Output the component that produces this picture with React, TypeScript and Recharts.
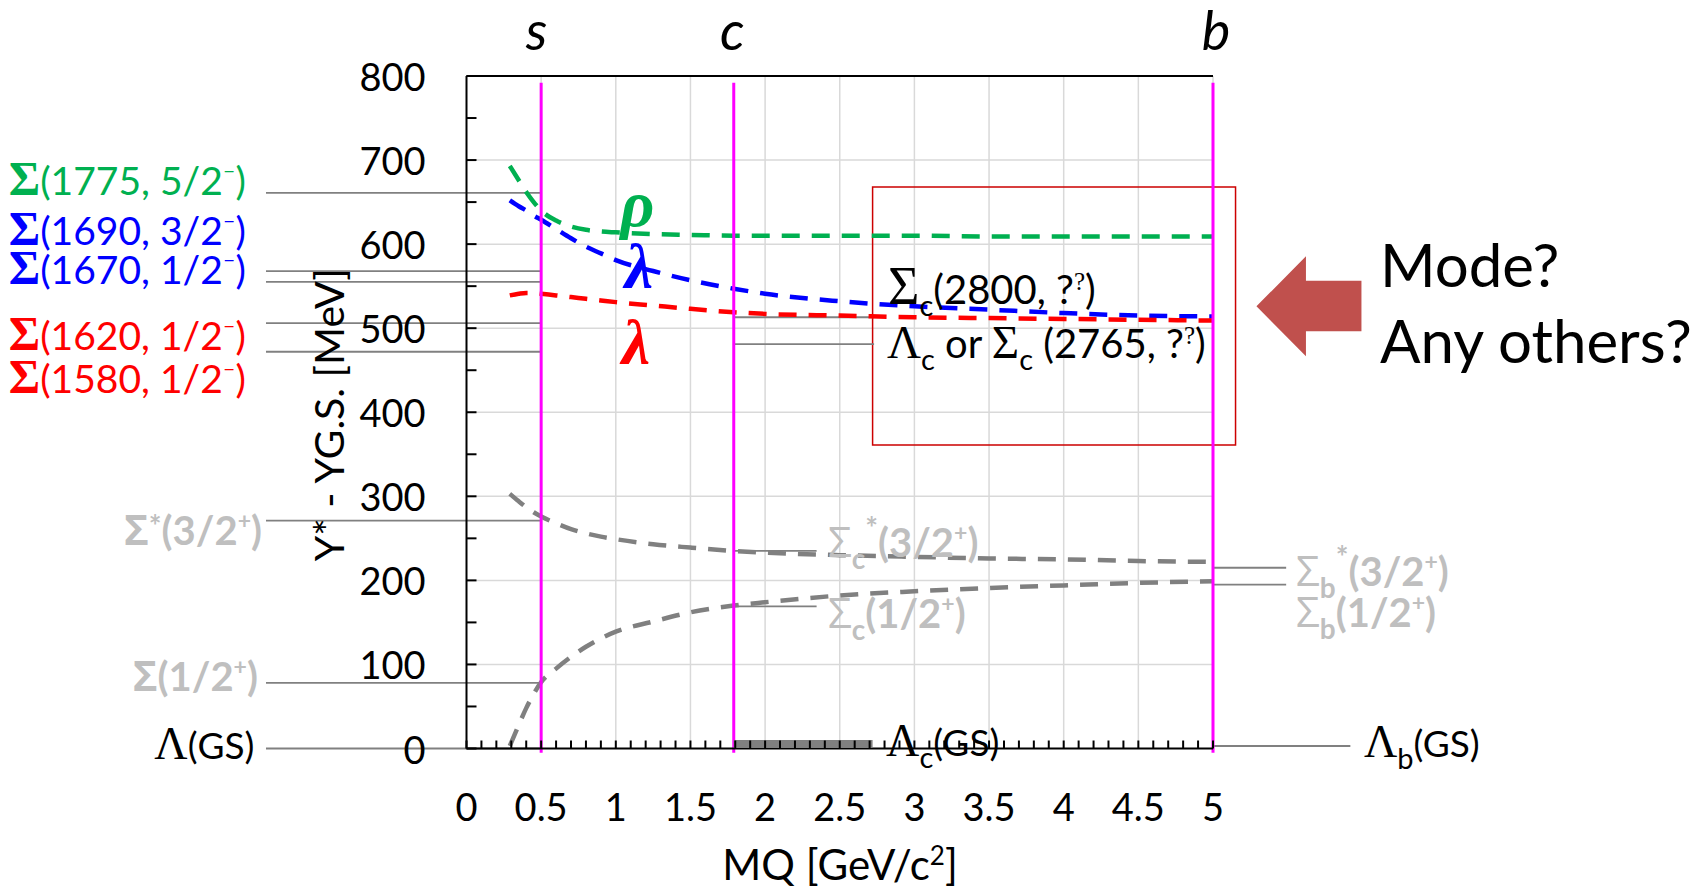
import React from 'react';
import {
  LineChart, Line, XAxis, YAxis, CartesianGrid, ReferenceLine, ReferenceArea, ReferenceDot,
} from 'recharts';

// quark mass axis (GeV/c^2) and excitation curves (MeV above ground state)
const MQ = [0.29, 0.35, 0.4, 0.45, 0.5, 0.6, 0.7, 0.8, 0.9, 1.0, 1.25, 1.5, 1.79, 2, 2.5, 3, 3.5, 4, 4.5, 5];
const RHO = [693, 676, 662, 650, 640, 628, 621, 617, 615, 614, 612, 611, 610, 610, 610, 610, 609, 609, 609, 609];
const LAMBDA_BLUE = [652, 645, 640, 634, 629, 618, 607, 597, 589, 581, 568, 557, 547, 541, 532, 526, 522, 518, 515, 514];
const LAMBDA_RED = [539, 541, 542, 542, 541, 539, 537, 535, 533, 531, 527, 523, 519, 517, 515, 513, 512, 511, 510, 509];
const SIGMA_STAR = [303, 294, 287, 281, 276, 268, 261, 256, 252, 249, 243, 239, 235, 233, 230, 228, 226, 225, 223, 222];
const SIGMA_HALF = [3, 28, 48, 65, 79, 95, 109, 121, 131, 139, 151, 162, 170, 174, 182, 187, 191, 194, 197, 199];

// quark masses (magenta lines)
const QUARKS = [
  { name: 's', m: 0.5 },
  { name: 'c', m: 1.79 },
  { name: 'b', m: 5 },
];

// measured levels (MeV above ground state)
const LEVELS_S = [661, 568, 555, 506, 472, 271, 78, 0];
const LEVELS_C = [513, 481];
const LEVELS_C_GRAY = [235, 169];
const LEVELS_B = [215, 195, 3];

const X_TICKS = Array.from({ length: 51 }, (_, i) => i / 10);
const Y_TICKS = Array.from({ length: 17 }, (_, i) => i * 50);
const X_GRID = [0.5, 1, 1.5, 2, 2.5, 3, 3.5, 4, 4.5, 5];
const Y_GRID = [100, 200, 300, 400, 500, 600, 700, 800];

const rows = MQ.map((mq, i) => ({
  mq,
  rho: RHO[i],
  lamB: LAMBDA_BLUE[i],
  lamR: LAMBDA_RED[i],
  sStar: SIGMA_STAR[i],
  sHalf: SIGMA_HALF[i],
}));

const SANS = "Lato, 'Open Sans', sans-serif";
const GREEK = "'Open Sans', 'Noto Sans', sans-serif";
const SERIF = "'Liberation Serif', 'DejaVu Serif', serif";
const GREEN = '#00b050';
const BLUE = '#0000ff';
const RED = '#ff0000';
const GRAY = '#808080';
const LIGHT = '#bfbfbf';
const MAGENTA = '#ff00ff';

const YTick = (props: any) => {
  const { x, y, payload } = props;
  const v = payload.value;
  return (
    <g>
      <line x1={x} x2={x + 10} y1={y} y2={y} stroke="#000" strokeWidth={2} />
      {v % 100 === 0 && (
        <text x={x - 41} y={y} textAnchor="end" dominantBaseline="central" fontFamily={SANS} fontSize={38} fill="#000">
          {v}
        </text>
      )}
    </g>
  );
};

const XTick = (props: any) => {
  const { x, y, payload } = props;
  const v = payload.value;
  const major = Math.round(v * 10) % 5 === 0;
  return (
    <g>
      <line x1={x} x2={x} y1={y} y2={y - 8} stroke="#000" strokeWidth={2} />
      {major && (
        <text x={x} y={y + 57} textAnchor="middle" dominantBaseline="central" fontFamily={SANS} fontSize={38} fill="#000">
          {String(v)}
        </text>
      )}
    </g>
  );
};

// text placed at a data coordinate
const note = (key: string, x: number, y: number, content: React.ReactNode) => (
  <ReferenceDot
    key={key}
    x={x}
    y={y}
    r={0}
    ifOverflow="visible"
    shape={(p: any) => <g transform={`translate(${p.cx},${p.cy})`}>{content}</g>}
  />
);

const seg = (key: string, x1: number, x2: number, y: number, stroke = GRAY, w = 1.8) => (
  <ReferenceLine
    key={key}
    segment={[{ x: x1, y }, { x: x2, y }]}
    stroke={stroke}
    strokeWidth={w}
    ifOverflow="visible"
  />
);

const leftLabel = (color: string, mass: string, jp: string) => (
  <text textAnchor="end" fill={color} fontFamily={SANS} fontSize={39}>
    <tspan fontFamily={SERIF} fontWeight="bold" fontSize={48}>Σ</tspan>
    <tspan>{`(${mass}, ${jp}`}</tspan>
    <tspan fontSize={22} dy={-17}>–</tspan>
    <tspan dy={17}>)</tspan>
  </text>
);

const grayLabel = (star: boolean, jp: string, sub?: string) => (
  <text textAnchor={sub ? 'start' : 'end'} fill={LIGHT} fontFamily={SANS} fontSize={40} fontWeight="bold">
    <tspan fontFamily={GREEK} fontWeight={sub ? 'normal' : 'bold'} fontSize={42}>Σ</tspan>
    {sub && <tspan fontSize={28} dy={12}>{sub}</tspan>}
    {star && <tspan fontSize={30} dy={sub ? -30 : -8}>*</tspan>}
    <tspan dy={star ? (sub ? 18 : 8) : sub ? -12 : 0}>{`(${jp}/2`}</tspan>
    <tspan fontSize={23} dy={-16}>+</tspan>
    <tspan dy={16}>)</tspan>
  </text>
);

const gsLabel = (anchor: 'start' | 'end', sub?: string) => (
  <text textAnchor={anchor} fill="#000" fontFamily={SANS} fontSize={37}>
    <tspan fontFamily={SERIF} fontSize={46}>Λ</tspan>
    {sub && <tspan fontSize={29} dy={12}>{sub}</tspan>}
    <tspan dy={sub ? -12 : 0}>(GS)</tspan>
  </text>
);

export default function App() {
  return (
    <div style={{ position: 'absolute', left: 0, top: 0, width: 1701, height: 892, background: '#fff' }}>
      <LineChart width={1701} height={892} data={rows} margin={{ top: 76, right: 488, bottom: 100, left: 366.5 }}>
        <CartesianGrid stroke="#d9d9d9" strokeWidth={1.5} horizontalValues={Y_GRID} verticalValues={X_GRID} />
        <XAxis
          dataKey="mq"
          type="number"
          domain={[0, 5]}
          ticks={X_TICKS}
          interval={0}
          height={43.5}
          tickSize={0}
          tickMargin={0}
          tickLine={false}
          axisLine={{ stroke: '#000', strokeWidth: 2 }}
          tick={XTick}
        />
        <YAxis
          type="number"
          domain={[0, 800]}
          ticks={Y_TICKS}
          interval={0}
          width={100}
          tickSize={0}
          tickMargin={0}
          tickLine={false}
          axisLine={{ stroke: '#000', strokeWidth: 2 }}
          tick={YTick}
        />
        <ReferenceLine y={800} stroke="#000" strokeWidth={2} />

        {/* level lines to the measured states */}
        {LEVELS_S.map((v, i) => seg(`ls${i}`, -1.343, 0.5, v))}
        {LEVELS_C.map((v, i) => seg(`lc${i}`, 1.79, 2.73, v))}
        {LEVELS_C_GRAY.map((v, i) => seg(`lg${i}`, 1.79, 2.345, v))}
        {LEVELS_B.map((v, i) => seg(`lb${i}`, 5, i === 2 ? 5.92 : 5.49, v))}

        <Line type="monotone" dataKey="rho" stroke={GREEN} strokeWidth={4.5} strokeDasharray="18 12" dot={false} isAnimationActive={false} />
        <Line type="monotone" dataKey="lamB" stroke={BLUE} strokeWidth={4.5} strokeDasharray="18 12" dot={false} isAnimationActive={false} />
        <Line type="monotone" dataKey="lamR" stroke={RED} strokeWidth={4.5} strokeDasharray="18 12" dot={false} isAnimationActive={false} />
        <Line type="monotone" dataKey="sStar" stroke={GRAY} strokeWidth={4.5} strokeDasharray="18 12" dot={false} isAnimationActive={false} />
        <Line type="monotone" dataKey="sHalf" stroke={GRAY} strokeWidth={4.5} strokeDasharray="18 12" dot={false} isAnimationActive={false} />

        {QUARKS.map((q) => (
          <ReferenceLine
            key={q.name}
            segment={[{ x: q.m, y: -5 }, { x: q.m, y: 792 }]}
            stroke={MAGENTA}
            strokeWidth={3}
            ifOverflow="visible"
          />
        ))}

        {/* Lambda_c ground state bar */}
        <ReferenceLine
          segment={[{ x: 1.79, y: 5.4 }, { x: 2.72, y: 5.4 }]}
          stroke={GRAY}
          strokeWidth={8}
          ifOverflow="visible"
          zIndex={1500}
        />

        <ReferenceArea x1={2.72} x2={5.151} y1={361} y2={668} fill="none" stroke="#cc0000" strokeWidth={1.5} ifOverflow="visible" />

        {/* quark labels */}
        {note('qs', 0.469, 831, <text textAnchor="middle" fontFamily={SANS} fontStyle="italic" fontSize={54} fill="#000">s</text>)}
        {note('qc', 1.78, 831, <text textAnchor="middle" fontFamily={SANS} fontStyle="italic" fontSize={54} fill="#000">c</text>)}
        {note('qb', 5.02, 831, <text textAnchor="middle" fontFamily={SANS} fontStyle="italic" fontSize={54} fill="#000">b</text>)}

        {/* mode labels */}
        {note('rho', 1.145, 648, <text textAnchor="middle" dominantBaseline="central" fontFamily={SERIF} fontStyle="italic" fontWeight="bold" fontSize={66} fill={GREEN}>ρ</text>)}
        {note('lamB', 1.155, 573, <text textAnchor="middle" dominantBaseline="central" fontFamily={SERIF} fontStyle="italic" fontWeight="bold" fontSize={64} fill={BLUE}>λ</text>)}
        {note('lamR', 1.135, 483, <text textAnchor="middle" dominantBaseline="central" fontFamily={SERIF} fontStyle="italic" fontWeight="bold" fontSize={64} fill={RED}>λ</text>)}

        {/* strange sector */}
        {note('s1775', -1.477, 659, leftLabel(GREEN, '1775', '5/2'))}
        {note('s1690', -1.477, 599, leftLabel(BLUE, '1690', '3/2'))}
        {note('s1670', -1.477, 552, leftLabel(BLUE, '1670', '1/2'))}
        {note('s1620', -1.477, 474, leftLabel(RED, '1620', '1/2'))}
        {note('s1580', -1.477, 423, leftLabel(RED, '1580', '1/2'))}
        {note('sStar', -1.37, 242, grayLabel(true, '3'))}
        {note('sHalf', -1.397, 68, grayLabel(false, '1'))}
        {note('lgs', -1.42, -13, gsLabel('end'))}

        {/* charm sector */}
        {note('c2800', 2.823, 529,
          <text fill="#000" fontFamily={SANS} fontSize={40}>
            <tspan fontFamily={SERIF} fontSize={54}>Σ</tspan>
            <tspan fontSize={29} dy={12}>c</tspan>
            <tspan dy={-12}>(2800, ?</tspan>
            <tspan fontFamily={SERIF} fontSize={25} dy={-14}>?</tspan>
            <tspan dy={14}>)</tspan>
          </text>)}
        {note('c2765', 2.816, 464,
          <text fill="#000" fontFamily={SANS} fontSize={40}>
            <tspan fontFamily={SERIF} fontSize={47}>Λ</tspan>
            <tspan fontSize={29} dy={12}>c</tspan>
            <tspan dy={-12}> or </tspan>
            <tspan fontFamily={SERIF} fontSize={47}>Σ</tspan>
            <tspan fontSize={29} dy={12}>c</tspan>
            <tspan dy={-12}> (2765, ?</tspan>
            <tspan fontFamily={SERIF} fontSize={25} dy={-14}>?</tspan>
            <tspan dy={14}>)</tspan>
          </text>)}
        {note('cStar', 2.421, 228, grayLabel(true, '3', 'c'))}
        {note('cHalf', 2.421, 143, grayLabel(false, '1', 'c'))}
        {note('cgs', 2.81, -9, gsLabel('start', 'c'))}

        {/* bottom sector */}
        {note('bStar', 5.556, 193, grayLabel(true, '3', 'b'))}
        {note('bHalf', 5.556, 145, grayLabel(false, '1', 'b'))}
        {note('bgs', 6.011, -10, gsLabel('start', 'b'))}

        {/* question arrow */}
        {note('arrow', 5.291, 526,
          <polygon points="0,0 49.5,-50 49.5,-25.5 105,-25.5 105,25 49.5,25 49.5,50" fill="#c0504d" />)}
        {note('mode', 6.118, 549, <text fontFamily={SANS} fontSize={60} fill="#000">Mode?</text>)}
        {note('others', 6.118, 458, <text fontFamily={SANS} fontSize={60} fill="#000">Any others?</text>)}

        {/* axis titles */}
        {note('ytitle', -0.921, 397,
          <text transform="rotate(-90)" textAnchor="middle" dominantBaseline="central" fontFamily={SANS} fontSize={41} fill="#000">
            Y* - YG.S. [MeV]
          </text>)}
        {note('xtitle', 2.502, -156,
          <text textAnchor="middle" fontFamily={SANS} fontSize={42} fill="#000">
            <tspan>MQ [GeV/c</tspan>
            <tspan fontSize={26} dy={-15}>2</tspan>
            <tspan dy={15}>]</tspan>
          </text>)}
      </LineChart>
    </div>
  );
}
